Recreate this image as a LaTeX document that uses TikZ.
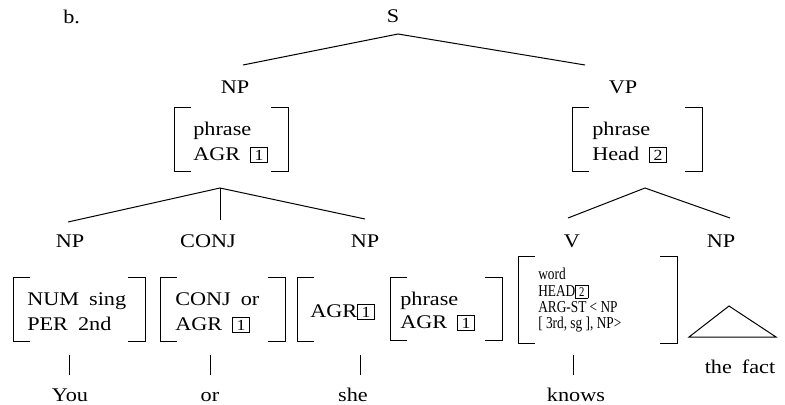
\documentclass[tikz,border=0pt]{standalone}
\usepackage{fontspec}
\usepackage{graphicx}
\setmainfont{Liberation Serif}[FakeStretch=1.15,WordSpace=1.8]
\newfontfamily\avmfont{Liberation Serif}[FakeStretch=0.8]
\newcommand{\tagnum}[1]{{\setlength{\fboxsep}{0.12em}\setlength{\fboxrule}{0.4pt}\fbox{\hspace{0.08em}\scalebox{0.8}{#1}\hspace{0.08em}}}}

\begin{document}
\begin{tikzpicture}[
	x=0.75pt, y=-0.75pt,
	cat/.style={inner sep=0pt, anchor=base, font=\fontsize{14.5}{17}\selectfont},
	feat/.style={inner sep=0pt, anchor=base west, font=\fontsize{14.5}{17}\selectfont},
	smallfeat/.style={inner sep=0pt, anchor=base west, font=\avmfont\fontsize{12.5}{13}\selectfont},
	branch/.style={line width=0.75pt},
	brak/.style={line width=0.7pt}
	]
	\useasboundingbox (0,0) rectangle (785,404);

	% --- Top: S -> NP VP ---
	\node[cat, anchor=base west] (label) at (63,23) {b.};
	\node[cat] (s) at (393,22) {S};
	\coordinate (s-foot) at (398,34);
	\coordinate (np-top) at (243,65);
	\coordinate (vp-top) at (585,65);
	\draw[branch] (np-top) -- (s-foot) -- (vp-top);

	\node[cat] (np) at (235,93) {NP};
	\node[cat] (vp) at (623,93) {VP};

	% --- Brackets (left x / right x / top / bottom) ---
	\foreach \l/\r/\t/\b in {174/288/107/171, 572/702/107/171, 13/145/277/341,
		160/285/277/341, 390/502/277/340, 518/677/256/343}{
		\draw[brak] (\l+17,\t) -| (\l,\b) -- ++(17,0);
		\draw[brak] (\r-17,\t) -| (\r,\b) -- ++(-17,0);
	}
	\draw[brak] (297+17,277) -| (297,341) -- ++(17,0);

	% --- Upper AVMs ---
	\node[feat] (np-f1) at (193,135) {phrase};
	\node[feat] (np-f2) at (193,160) {AGR \tagnum{1}};
	\node[feat] (vp-f1) at (592,135) {phrase};
	\node[feat] (vp-f2) at (592,160) {Head \tagnum{2}};

	% --- NP -> NP CONJ NP ---
	\coordinate (np-fork) at (220,188);
	\coordinate (np1-top) at (68,222);
	\coordinate (conj-top) at (220,220);
	\coordinate (np3-top) at (365,219);
	\draw[branch] (np1-top) -- (np-fork) -- (np3-top);
	\draw[branch] (np-fork) -- (conj-top);

	% --- VP -> V NP ---
	\coordinate (vp-fork) at (645,188);
	\coordinate (v-top) at (568,218);
	\coordinate (obj-top) at (730,218);
	\draw[branch] (v-top) -- (vp-fork) -- (obj-top);

	\node[cat] (np1) at (70,247) {NP};
	\node[cat] (conj) at (208,247) {CONJ};
	\node[cat] (np3) at (365,247) {NP};
	\node[cat] (v) at (572,247) {V};
	\node[cat] (obj) at (721,247) {NP};

	% --- Lower AVMs ---
	\node[feat] (np1-f1) at (27,305) {NUM sing};
	\node[feat] (np1-f2) at (27,330) {PER 2nd};
	\node[feat] (conj-f1) at (175,305) {CONJ or};
	\node[feat] (conj-f2) at (175,330) {AGR \tagnum{1}};
	\node[feat] (np3-agr) at (310,317) {AGR\tagnum{1}};
	\node[feat] (np3-f1) at (400,305) {phrase};
	\node[feat] (np3-f2) at (400,328) {AGR \tagnum{1}};
	\node[smallfeat] (v-f1) at (538,279) {word};
	\node[smallfeat] (v-f2) at (538,296) {HEAD\tagnum{2}};
	\node[smallfeat] (v-f3) at (538,312) {ARG-ST < NP};
	\node[smallfeat] (v-f4) at (538,328) {[ 3rd, sg ], NP>};

	% --- Object NP triangle ---
	\coordinate (tri-top) at (729,306);
	\coordinate (tri-right) at (776,337);
	\coordinate (tri-left) at (689,337);
	\draw[branch] (tri-top) -- (tri-right) -- (tri-left) -- cycle;
	\node[cat] (fact) at (740,373) {the fact};

	% --- Words ---
	\foreach \x/\n in {69/you, 210/or, 360/she, 573/knows}{
		\coordinate (\n-up) at (\x,355);
		\coordinate (\n-dn) at (\x,375);
		\draw[branch] (\n-up) -- (\n-dn);
	}
	\node[cat] (you) at (70,401) {You};
	\node[cat] (or) at (210,401) {or};
	\node[cat] (she) at (353,401) {she};
	\node[cat] (knows) at (576,401) {knows};
\end{tikzpicture}
\end{document}
